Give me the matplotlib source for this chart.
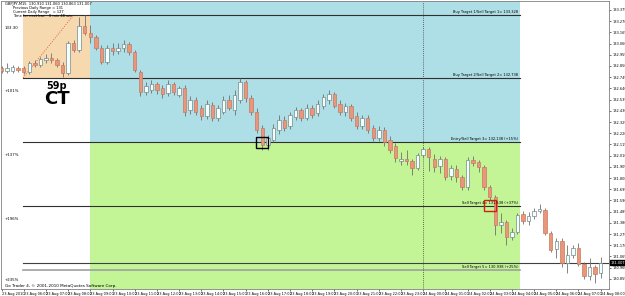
import matplotlib
matplotlib.use('Agg')
import matplotlib.pyplot as plt
from matplotlib.patches import Rectangle
from matplotlib.transforms import blended_transform_factory
import numpy as np

# GBPJPY M15 candles, 23 Aug 05:00 -> 24 Aug 08:00
opens = [132.831, 132.803, 132.803, 132.831, 132.831, 132.794, 132.878, 132.860, 132.906, 132.925,
         132.906, 132.860, 132.785, 133.066, 133.000, 133.225, 133.159, 133.122, 133.019, 132.888,
         133.019, 132.991, 133.019, 133.056, 132.981, 132.794, 132.606, 132.625, 132.681, 132.644,
         132.597, 132.681, 132.578, 132.644, 132.438, 132.531, 132.456, 132.381, 132.485, 132.363,
         132.419, 132.531, 132.438, 132.531, 132.700, 132.550, 132.419, 132.269, 132.110, 132.156,
         132.250, 132.344, 132.288, 132.372, 132.438, 132.363, 132.456, 132.410, 132.475, 132.531,
         132.588, 132.494, 132.419, 132.475, 132.381, 132.288, 132.363, 132.269, 132.175, 132.250,
         132.156, 132.100, 131.960, 131.978, 131.960, 131.894, 132.016, 132.072, 131.978, 131.913,
         131.978, 131.819, 131.885, 131.810, 131.716, 131.969, 131.950, 131.903, 131.716, 131.622,
         131.360, 131.388, 131.247, 131.294, 131.463, 131.397, 131.444, 131.491, 131.500, 131.285,
         131.135, 131.210, 131.003, 131.078, 131.144, 130.994, 130.881, 130.966, 130.910]
highs = [132.850, 132.878, 132.860, 132.850, 132.850, 132.897, 132.906, 132.935, 132.963, 132.972,
         132.925, 132.888, 133.084, 133.094, 133.309, 133.328, 133.234, 133.141, 133.047, 133.047,
         133.066, 133.066, 133.094, 133.075, 133.000, 132.813, 132.700, 132.719, 132.700, 132.672,
         132.719, 132.700, 132.663, 132.672, 132.569, 132.560, 132.485, 132.531, 132.513, 132.485,
         132.569, 132.578, 132.625, 132.738, 132.719, 132.578, 132.456, 132.297, 132.203, 132.306,
         132.391, 132.381, 132.419, 132.466, 132.456, 132.494, 132.485, 132.531, 132.588, 132.625,
         132.606, 132.531, 132.503, 132.494, 132.419, 132.391, 132.391, 132.297, 132.288, 132.278,
         132.194, 132.128, 132.044, 132.063, 131.978, 132.035, 132.091, 132.091, 132.025, 132.006,
         131.997, 131.922, 131.922, 131.828, 131.997, 132.006, 131.969, 131.922, 131.735, 131.641,
         131.472, 131.406, 131.331, 131.472, 131.491, 131.481, 131.519, 131.556, 131.519, 131.303,
         131.238, 131.238, 131.172, 131.172, 131.191, 131.013, 131.050, 130.985, 131.060]
lows = [132.785, 132.785, 132.785, 132.794, 132.775, 132.775, 132.841, 132.841, 132.878, 132.878,
        132.841, 132.747, 132.766, 132.981, 132.981, 133.141, 133.066, 133.000, 132.869, 132.869,
        132.953, 132.963, 132.981, 132.953, 132.794, 132.569, 132.578, 132.597, 132.588, 132.550,
        132.569, 132.578, 132.560, 132.381, 132.400, 132.391, 132.344, 132.353, 132.335, 132.335,
        132.400, 132.438, 132.391, 132.503, 132.513, 132.391, 132.222, 132.063, 132.063, 132.138,
        132.213, 132.241, 132.260, 132.344, 132.335, 132.344, 132.363, 132.381, 132.447, 132.494,
        132.456, 132.391, 132.381, 132.335, 132.260, 132.260, 132.222, 132.147, 132.147, 132.100,
        132.035, 131.950, 131.922, 131.922, 131.828, 131.875, 131.997, 131.866, 131.856, 131.847,
        131.781, 131.781, 131.763, 131.688, 131.688, 131.913, 131.856, 131.688, 131.594, 131.266,
        131.285, 131.172, 131.219, 131.275, 131.369, 131.360, 131.416, 131.472, 131.266, 131.106,
        131.050, 130.966, 130.910, 131.050, 130.975, 130.853, 130.844, 130.816, 130.863]
closes = [132.803, 132.831, 132.841, 132.813, 132.794, 132.878, 132.860, 132.916, 132.925, 132.906,
          132.860, 132.785, 133.066, 133.000, 133.225, 133.159, 133.122, 133.019, 132.888, 133.019,
          132.991, 133.019, 133.056, 132.981, 132.813, 132.606, 132.663, 132.681, 132.625, 132.588,
          132.681, 132.606, 132.644, 132.419, 132.531, 132.419, 132.381, 132.494, 132.363, 132.456,
          132.531, 132.456, 132.578, 132.700, 132.550, 132.419, 132.250, 132.110, 132.175, 132.269,
          132.344, 132.269, 132.391, 132.438, 132.363, 132.456, 132.391, 132.494, 132.560, 132.588,
          132.475, 132.419, 132.475, 132.363, 132.288, 132.363, 132.250, 132.175, 132.250, 132.138,
          132.063, 131.988, 131.978, 131.960, 131.894, 132.016, 132.072, 131.997, 131.903, 131.978,
          131.810, 131.894, 131.810, 131.716, 131.969, 131.941, 131.903, 131.716, 131.622, 131.360,
          131.388, 131.247, 131.294, 131.453, 131.397, 131.444, 131.491, 131.510, 131.285, 131.125,
          131.210, 131.003, 131.078, 131.144, 130.994, 130.881, 130.966, 130.900, 131.007]

# hourly time labels (every 4 bars)
time_labels = ['23 Aug 2010'] + [f'23 Aug {h:02d}:00' for h in range(6, 24)] + \
              [f'24 Aug {h:02d}:00' for h in range(0, 9)]
day_break_bar = 76

# range box / target levels
range_high = 133.328
range_low = 132.738
entry_level = 132.138
target4 = 131.538
target5 = 130.938
bid = 131.007
box_start, box_end, zone_end = 3.87, 15.95, 93.4
trend_end_bar = 13
target_texts = ['Buy Target 1/Sell Target 1= 133.328', 'Buy Target 2/Sell Target 2= 132.738',
                'Entry/Sell Target 3= 132.138 (+15%)', 'Sell Target 4= 131.538 (+37%)',
                'Sell Target 5= 130.938 (+25%)']
left_texts = ['133.30', '+101%', '+137%', '+196%', '+235%']
marker_bars = [47, 88]

price_ticks = [130.855, 130.960, 131.065, 131.170, 131.275, 131.380, 131.485, 131.590, 131.695,
               131.800, 131.905, 132.010, 132.115, 132.220, 132.325, 132.430, 132.535, 132.640,
               132.745, 132.850, 132.955, 133.060, 133.165, 133.270, 133.375]

fig = plt.figure(figsize=(6.25, 2.96), dpi=100)
ax = fig.add_axes([1 / 625, 7 / 296, 608 / 625, 288 / 296])
ax.set_xlim(-0.1, 109.5)
ax.set_ylim(130.760, 133.459)

# zones
ax.add_patch(Rectangle((box_start, range_low), box_end - box_start, range_high - range_low,
                       color='#F7D9B0', lw=0, zorder=0))
ax.add_patch(Rectangle((box_end, entry_level), zone_end - box_end, 133.459 - entry_level,
                       color='#AEDEE6', lw=0, zorder=0))
ax.add_patch(Rectangle((box_end, 130.760), zone_end - box_end, entry_level - 130.760,
                       color='#C3F597', lw=0, zorder=0))
ax.plot([box_start, trend_end_bar], [range_low, range_high], color='#E06040', ls=(0, (1, 1.5)), lw=0.7, zorder=1)

# target lines
levels = [range_high, range_low, entry_level, target4, target5]
for lvl, txt in zip(levels, target_texts):
    c = '#A0A0A0' if lvl == target5 else '#303030'
    ax.plot([box_start, zone_end], [lvl, lvl], color=c, lw=0.8 if lvl != target5 else 1.2, zorder=1)
    ax.text(zone_end - 0.3, lvl + 0.008, txt, fontsize=2.6, ha='right', va='bottom', zorder=5)
ax.plot([box_start, 109.5], [bid, bid], color='#404040', lw=0.8, zorder=1)

for i, (lvl, txt) in enumerate(zip(levels, left_texts)):
    ax.text(0.6, lvl - (0.125 if i < 4 else 0.095), txt, fontsize=2.8, ha='left', va='center')

ax.axvline(day_break_bar, color='#404040', ls=(0, (1, 1.5)), lw=0.6, zorder=1)

# candles
x = np.arange(len(opens))
o, h, l, c = map(np.array, (opens, highs, lows, closes))
up = c >= o
ax.vlines(x, l, h, color='#707070', lw=0.6, zorder=2)
body_lo = np.minimum(o, c)
body_h = np.maximum(np.abs(c - o), 0.004)
ax.bar(x[up], body_h[up], bottom=body_lo[up], width=0.62, color='#F2FFFF', edgecolor='#788888', lw=0.5, zorder=3)
ax.bar(x[~up], body_h[~up], bottom=body_lo[~up], width=0.62, color='#E9967A', edgecolor='#C87A60', lw=0.5, zorder=3)

# marker boxes
ax.add_patch(Rectangle((marker_bars[0] - 1.1, entry_level - 0.055), 2.2, 0.105, fill=False, ec='black', lw=1.0, zorder=4))
ax.add_patch(Rectangle((marker_bars[1] - 1.1, target4 - 0.05), 2.2, 0.105, fill=False, ec='#D02010', lw=1.0, zorder=4))

# range text
mid = (box_start + box_end) / 2
ax.text(mid, range_low - 0.072, '59p', fontsize=7, fontweight='bold', ha='center', va='center')
ax.text(mid, range_low - 0.195, 'CT', fontsize=13, fontweight='bold', ha='center', va='center')

# header text
hdr = ['GBPJPY,M15  130.910 131.060 130.863 131.007', 'Previous Daily Range = 131',
       'Current Daily Range   = 127', 'Time for next bar:   0 min 48 sec']
for i, t in enumerate(hdr):
    ax.text(0.6 if i == 0 else 2.0, 133.447 - i * 0.036, t, fontsize=2.6, va='top', ha='left')
ax.text(0.6, 130.786, 'Go Trader 4, \u00a9 2001-2010 MetaQuotes Software Corp.', fontsize=3.0, va='center', ha='left')

# axes
ax.yaxis.tick_right()
ax.set_yticks(price_ticks)
ax.set_yticklabels([f'{v:.3f}' for v in price_ticks], fontsize=2.5)
ax.set_xticks(range(0, 4 * len(time_labels), 4))
ax.set_xticklabels(time_labels, fontsize=2.5, ha='left')
ax.tick_params(length=1.5, width=0.4, pad=0.8)
for s in ax.spines.values():
    s.set_color('#808080')
    s.set_linewidth(0.6)

tr = blended_transform_factory(ax.transAxes, ax.transData)
ax.text(1.003, bid, '131.007', transform=tr, fontsize=2.5, color='white', va='center', ha='left',
        bbox=dict(boxstyle='square,pad=0.12', fc='black', ec='black'))

fig.savefig('out.png', dpi=100)
